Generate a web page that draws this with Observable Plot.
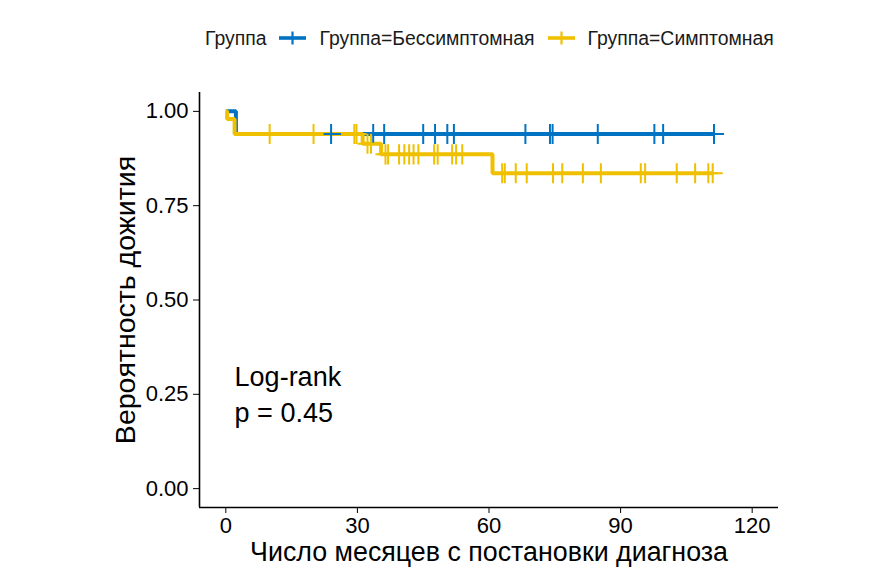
<!DOCTYPE html>
<html>
<head>
<meta charset="utf-8">
<script src="https://cdn.jsdelivr.net/npm/d3@7"></script>
<script src="https://cdn.jsdelivr.net/npm/@observablehq/plot@0.6"></script>
<style>
  html, body { margin: 0; padding: 0; background: #fff; }
  #wrap { position: relative; width: 891px; height: 585px; font-family: "Liberation Sans", Arial, sans-serif; }
  #legend { position: absolute; left: 0; top: 25px; width: 891px; height: 26px; display: flex; align-items: center; font-size: 19.4px; color: #1a1a1a; }
  #legend .item { display: flex; align-items: center; }
  #legend svg { display: block; }
</style>
</head>
<body>
<div id="wrap">
  <div id="legend"></div>
  <div id="chart"></div>
</div>
<script>
// ---- Data ----
const groupTitle = "Группа";
const groupNames = ["Группа=Бессимптомная", "Группа=Симптомная"];
const groupColors = ["#0073C2", "#EFC000"];

// Kaplan–Meier steps: time (months) and survival probability
const asymTimes = [0, 2.3, 111.3];
const asymSurv  = [1.0, 0.94, 0.94];
const symTimes  = [0, 0.3, 2.0, 31.2, 35.4, 60.8, 111.0];
const symSurv   = [1.0, 0.98, 0.94, 0.914, 0.886, 0.836, 0.836];

// Censoring marks (time, survival level)
const asymCensorTimes = [24.0, 33.6, 36.1, 45.0, 47.7, 50.5, 52.0, 68.3, 73.9, 74.5, 84.8, 97.7, 99.7, 111.3];
const asymCensorSurv  = asymCensorTimes.map(() => 0.94);
const symCensorTimes  = [10.0, 20.0, 29.3, 29.8,
                         32.3, 33.1,
                         36.4, 37.0, 39.5, 40.7, 41.8, 42.8, 43.9, 47.5, 48.3, 51.6, 52.5, 53.9,
                         63.0, 63.6, 66.1, 68.6, 74.6, 76.7, 81.4, 85.5, 94.6, 95.6, 102.8, 107.0, 110.0, 111.0];
const symCensorSurv   = [0.94, 0.94, 0.94, 0.94,
                         0.914, 0.914,
                         0.886, 0.886, 0.886, 0.886, 0.886, 0.886, 0.886, 0.886, 0.886, 0.886, 0.886, 0.886,
                         0.836, 0.836, 0.836, 0.836, 0.836, 0.836, 0.836, 0.836, 0.836, 0.836, 0.836, 0.836, 0.836, 0.836];

const xTicks = [0, 30, 60, 90, 120];
const yTicks = [0, 0.25, 0.5, 0.75, 1.0];
const xDomain = [-6, 126];
const yDomain = [-0.05, 1.05];
const xTitle = "Число месяцев с постановки диагноза";
const yTitle = "Вероятность дожития";
const pvalLines = ["Log-rank", "p = 0.45"];
const pvalX = [2.0, 2.0];
const pvalY = [0.294, 0.20];

// ---- Build tables ----
const steps = [
  ...asymTimes.map((t, i) => ({time: t, surv: asymSurv[i], group: groupNames[0]})),
  ...symTimes.map((t, i) => ({time: t, surv: symSurv[i], group: groupNames[1]}))
];
const censors = [
  ...asymCensorTimes.map((t, i) => ({time: t, surv: asymCensorSurv[i], group: groupNames[0]})),
  ...symCensorTimes.map((t, i) => ({time: t, surv: symCensorSurv[i], group: groupNames[1]}))
];
const pvalText = pvalLines.map((s, i) => ({label: s, x: pvalX[i], y: pvalY[i]}));

const font = "Liberation Sans, Arial, sans-serif";

const chart = Plot.plot({
  width: 891,
  height: 585,
  marginLeft: 199,
  marginRight: 113,
  marginTop: 92,
  marginBottom: 78,
  style: {fontFamily: font, fontSize: "22px", color: "#000", background: "#fff"},
  x: {domain: xDomain, ticks: xTicks, tickSize: 6, tickPadding: 4, label: null},
  y: {domain: yDomain, ticks: yTicks, tickSize: 6, tickPadding: 5, tickFormat: d3.format(".2f"), label: null},
  color: {domain: groupNames, range: groupColors},
  marks: [
    Plot.ruleY([yDomain[0]], {stroke: "#000", strokeWidth: 1.6}),
    Plot.ruleX([xDomain[0]], {stroke: "#000", strokeWidth: 1.6}),
    Plot.line(steps, {x: "time", y: "surv", z: "group", stroke: "group", curve: "step-after", strokeWidth: 4, strokeLinejoin: "miter", strokeLinecap: "butt"}),
    Plot.dot(censors, {x: "time", y: "surv", stroke: "group", symbol: "plus", r: 6.5, strokeWidth: 2}),
    Plot.text(pvalText, {x: "x", y: "y", text: "label", textAnchor: "start", fontSize: 27, fill: "#000"}),
    Plot.text([xTitle], {frameAnchor: "bottom", dy: 53, fontSize: 26.8, fill: "#000"}),
    Plot.text([yTitle], {frameAnchor: "left", textAnchor: "middle", dx: -74, rotate: -90, fontSize: 28.5, fill: "#000"})
  ]
});
document.getElementById("chart").appendChild(chart);

// ---- Legend (HTML above the plot area) ----
const legend = document.getElementById("legend");
const title = document.createElement("span");
title.textContent = groupTitle;
title.style.marginLeft = "205px";
title.style.marginRight = "13px";
legend.appendChild(title);
groupNames.forEach((name, i) => {
  const item = document.createElement("span");
  item.className = "item";
  item.innerHTML = `<svg width="27" height="20" viewBox="0 0 27 20"><line x1="0" x2="27" y1="10" y2="10" stroke="${groupColors[i]}" stroke-width="3.6"/><line x1="13.5" x2="13.5" y1="3.5" y2="16.5" stroke="${groupColors[i]}" stroke-width="2.2"/></svg>`;
  const lab = document.createElement("span");
  lab.textContent = name;
  lab.style.marginLeft = "13px";
  lab.style.marginRight = "13px";
  item.appendChild(lab);
  legend.appendChild(item);
});
</script>
</body>
</html>
